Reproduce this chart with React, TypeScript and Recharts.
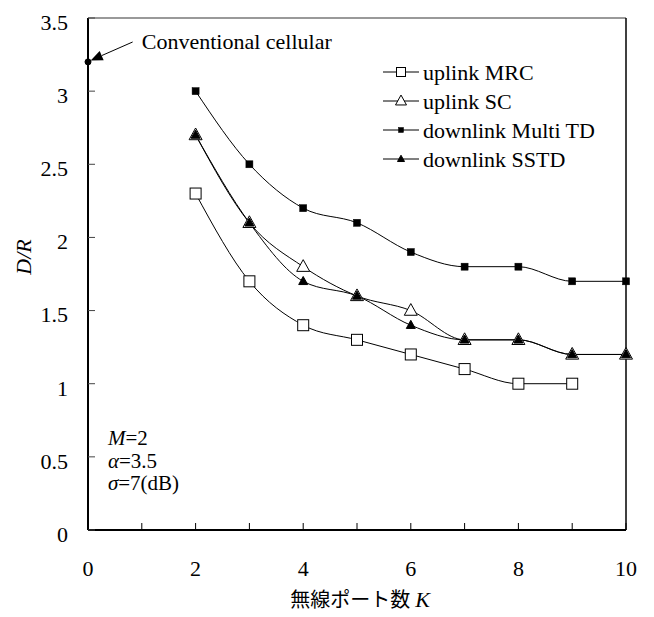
import React from 'react';
import { LineChart, Line, XAxis, YAxis, Legend, ReferenceLine, ReferenceDot } from 'recharts';

// K = number of radio ports
const kValues = [2, 3, 4, 5, 6, 7, 8, 9, 10];
const uplinkMrc = [2.3, 1.7, 1.4, 1.3, 1.2, 1.1, 1.0, 1.0, null];
const uplinkSc = [2.7, 2.1, 1.8, 1.6, 1.5, 1.3, 1.3, 1.2, 1.2];
const downlinkMultiTd = [3.0, 2.5, 2.2, 2.1, 1.9, 1.8, 1.8, 1.7, 1.7];
const downlinkSstd = [2.7, 2.1, 1.7, 1.6, 1.4, 1.3, 1.3, 1.2, 1.2];

const xTicks = [0, 1, 2, 3, 4, 5, 6, 7, 8, 9, 10];
const yTicks = [0, 0.5, 1, 1.5, 2, 2.5, 3, 3.5];

// conventional cellular reference point
const conventionalK = 0;
const conventionalDR = 3.2;

const FONT = '"Liberation Serif", "Noto Sans CJK JP", serif';

const data = kValues.map((k, i) => ({
  k,
  mrc: uplinkMrc[i],
  sc: uplinkSc[i],
  mtd: downlinkMultiTd[i],
  sstd: downlinkSstd[i],
}));

type MarkProps = { cx: number; cy: number; s: number };

function OpenSquare({ cx, cy, s }: MarkProps) {
  return <rect x={cx - s / 2} y={cy - s / 2} width={s} height={s} fill="#fff" stroke="#000" strokeWidth={1} />;
}
function FilledSquare({ cx, cy, s }: MarkProps) {
  return <rect x={cx - s / 2} y={cy - s / 2} width={s} height={s} fill="#000" stroke="#000" strokeWidth={0.5} />;
}
function Triangle({ cx, cy, s, filled }: MarkProps & { filled: boolean }) {
  const h = s * 0.9;
  const pts = `${cx},${cy - h * 0.6} ${cx - s / 2},${cy + h * 0.4} ${cx + s / 2},${cy + h * 0.4}`;
  return <polygon points={pts} fill={filled ? '#000' : '#fff'} stroke="#000" strokeWidth={1} />;
}

function renderMark(kind: string, size: number) {
  return (p: any) => {
    if (p.cy == null || p.value == null) return <g key={p.index} />;
    const props = { cx: p.cx, cy: p.cy, s: size };
    if (kind === 'osq') return <OpenSquare key={p.index} {...props} />;
    if (kind === 'fsq') return <FilledSquare key={p.index} {...props} />;
    if (kind === 'otri') return <Triangle key={p.index} {...props} filled={false} />;
    return <Triangle key={p.index} {...props} filled />;
  };
}

const seriesList = [
  { key: 'mrc', name: 'uplink MRC', mark: 'osq', size: 11, legendSize: 9 },
  { key: 'sc', name: 'uplink SC', mark: 'otri', size: 13, legendSize: 11 },
  { key: 'mtd', name: 'downlink Multi TD', mark: 'fsq', size: 7, legendSize: 5 },
  { key: 'sstd', name: 'downlink SSTD', mark: 'ftri', size: 9, legendSize: 7 },
];

function LegendBox() {
  const rowGap = 29;
  return (
    <svg width={250} height={125} style={{ fontFamily: FONT, overflow: 'visible' }}>
      {seriesList.map((s, i) => {
        const y = 12 + i * rowGap;
        const m = renderMark(s.mark, s.legendSize);
        return (
          <g key={s.key}>
            <line x1={3} x2={39} y1={y} y2={y} stroke="#000" strokeWidth={1} />
            {m({ cx: 21, cy: y, value: 1, index: 0 })}
            <text x={43} y={y} dominantBaseline="central" fontSize={22} fill="#000">
              {s.name}
            </text>
          </g>
        );
      })}
    </svg>
  );
}

// arrow from the annotation text to the conventional point
function ArrowShape(p: any) {
  const { x1, y1, x2, y2 } = p;
  const ang = Math.atan2(y2 - y1, x2 - x1);
  const len = 12;
  const half = 5;
  const bx = x2 - len * Math.cos(ang);
  const by = y2 - len * Math.sin(ang);
  const nx = -Math.sin(ang);
  const ny = Math.cos(ang);
  return (
    <g>
      <line x1={x1} y1={y1} x2={bx} y2={by} stroke="#000" strokeWidth={1} />
      <polygon
        points={`${x2},${y2} ${bx + nx * half},${by + ny * half} ${bx - nx * half},${by - ny * half}`}
        fill="#000"
      />
    </g>
  );
}

function textShape(content: React.ReactNode, size = 22) {
  return (p: any) => (
    <text x={p.cx} y={p.cy} dominantBaseline="central" fontSize={size} fill="#000" fontFamily={FONT}>
      {content}
    </text>
  );
}

export default function App() {
  return (
    <div style={{ position: 'absolute', left: 0, top: 0, width: 654, height: 617, background: '#fff' }}>
      <LineChart
        width={654}
        height={617}
        data={data}
        margin={{ top: 18, right: 28, left: 28, bottom: 27 }}
        style={{ fontFamily: FONT }}
      >
        <XAxis
          type="number"
          dataKey="k"
          domain={[0, 10]}
          ticks={xTicks}
          tickFormatter={(v) => (v % 2 === 0 ? String(v) : '')}
          tickSize={-7}
          tickMargin={37}
          height={60}
          axisLine={{ stroke: '#000', strokeWidth: 2 }}
          tickLine={{ stroke: '#000', strokeWidth: 1 }}
          tick={{ fill: '#000', fontSize: 22 }}
          label={(props: any) => {
            const vb = props.viewBox;
            return (
              <text x={vb.x + vb.width / 2 + 3} y={vb.y + 77} textAnchor="middle" fontSize={20} fill="#000" fontFamily={FONT}>
                無線ポート数 <tspan fontStyle="italic" fontSize={22}>K</tspan>
              </text>
            );
          }}
        />
        <YAxis
          type="number"
          domain={[0, 3.5]}
          ticks={yTicks}
          width={60}
          tickSize={-7}
          tickMargin={27}
          axisLine={{ stroke: '#000', strokeWidth: 2 }}
          tickLine={{ stroke: '#444', strokeWidth: 1 }}
          tick={{ fill: '#000', fontSize: 22, dy: 4 }}
          label={(props: any) => {
            const vb = props.viewBox;
            const cx = vb.x - 5;
            const cy = 257;
            return (
              <text x={cx} y={cy} transform={`rotate(-90, ${cx}, ${cy})`} textAnchor="middle" dominantBaseline="central" fontSize={22} fontStyle="italic" fill="#000" fontFamily={FONT}>
                D/R
              </text>
            );
          }}
        />
        <ReferenceLine y={3.5} stroke="#777" strokeWidth={1.5} />
        <ReferenceLine x={10} stroke="#000" strokeWidth={1.5} />

        {seriesList.map((s) => (
          <Line
            key={s.key}
            type="monotone"
            dataKey={s.key}
            name={s.name}
            stroke="#000"
            strokeWidth={1}
            dot={renderMark(s.mark, s.size)}
            activeDot={false}
            isAnimationActive={false}
          />
        ))}

        <ReferenceLine
          segment={[
            { x: 0.83, y: 3.336 },
            { x: 0.05, y: 3.21 },
          ]}
          shape={ArrowShape}
        />
        <ReferenceDot x={conventionalK} y={conventionalDR} r={3} fill="#000" stroke="#000" />
        <ReferenceDot x={1.0} y={3.336} r={0} shape={textShape('Conventional cellular')} />
        <ReferenceDot
          x={0.37}
          y={0.63}
          r={0}
          shape={textShape(
            <>
              <tspan fontStyle="italic">M</tspan>=2
            </>,
            21,
          )}
        />
        <ReferenceDot
          x={0.37}
          y={0.475}
          r={0}
          shape={textShape(
            <>
              <tspan fontStyle="italic">α</tspan>=3.5
            </>,
            21,
          )}
        />
        <ReferenceDot
          x={0.37}
          y={0.32}
          r={0}
          shape={textShape(
            <>
              <tspan fontStyle="italic">σ</tspan>=7(dB)
            </>,
            21,
          )}
        />

        <Legend
          layout="vertical"
          align="center"
          verticalAlign="middle"
          content={() => <LegendBox />}
          wrapperStyle={{ left: 380, top: 60, width: 250 }}
        />
      </LineChart>
    </div>
  );
}
